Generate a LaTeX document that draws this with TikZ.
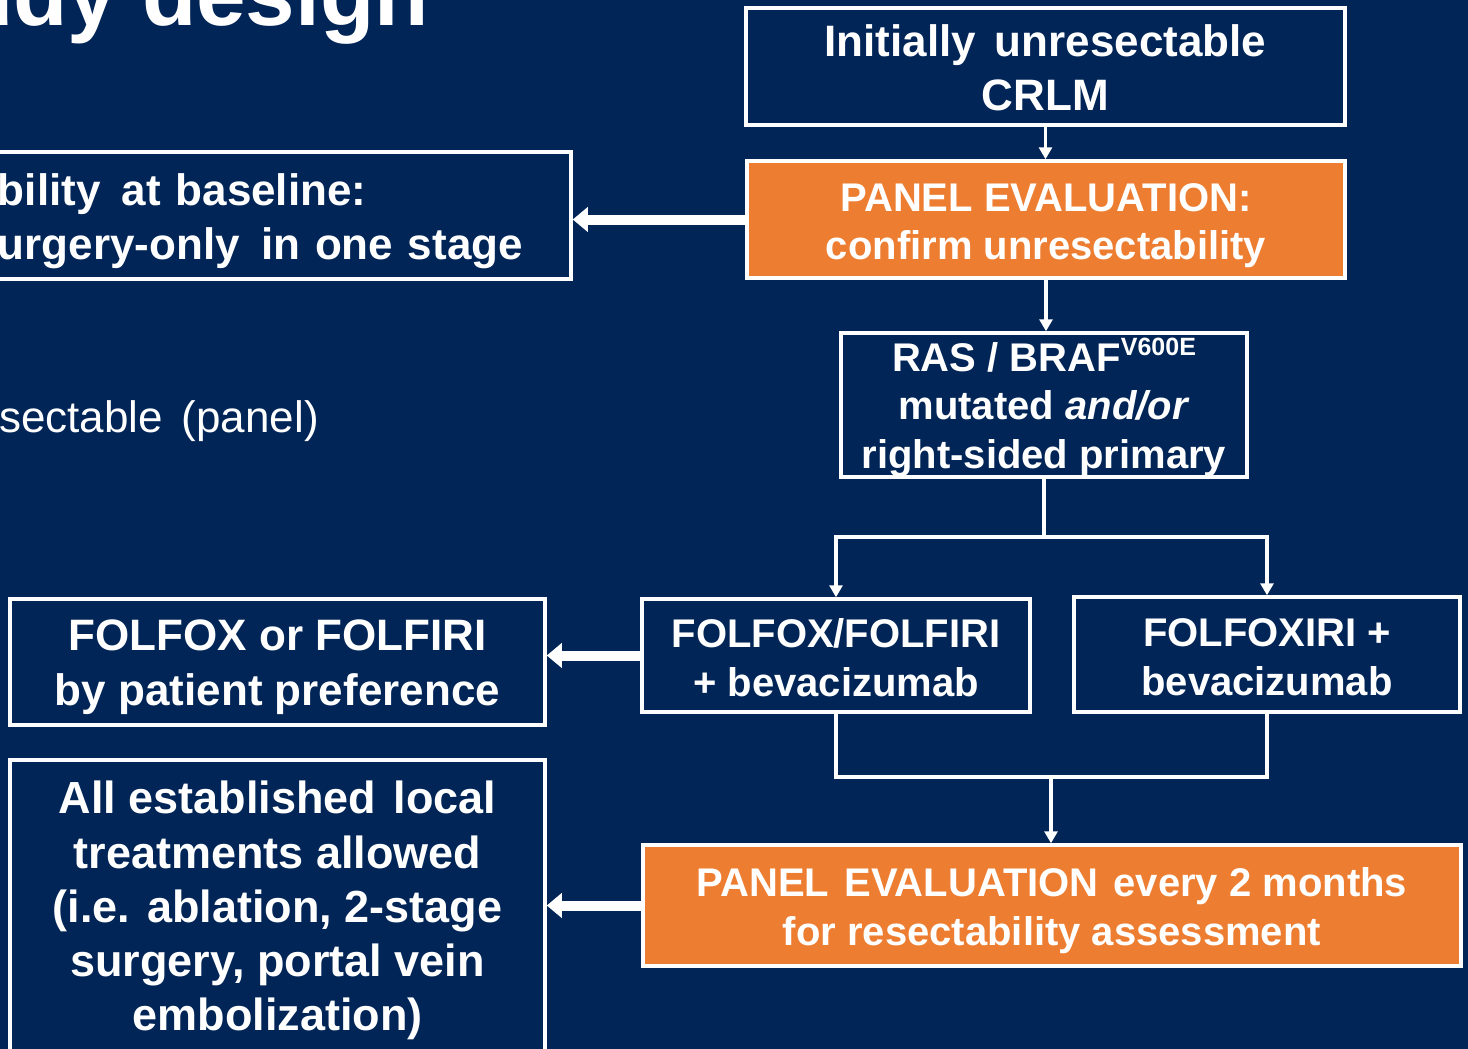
\documentclass[tikz,border=0pt]{standalone}
\usepackage{fontspec}
\setmainfont{Liberation Sans}
\usetikzlibrary{arrows.meta}
\definecolor{navy}{RGB}{1,37,87}
\definecolor{orng}{RGB}{237,125,49}
\newcommand\myst[1]{\rule{0pt}{#1}}
\begin{document}
\begin{tikzpicture}[x=1pt,y=-1pt,
  box/.style={draw=white, line width=3.5pt, fill=navy, text=white, align=center, inner sep=0pt},
  obox/.style={box, fill=orng},
  fa/.style={font=\fontsize{40}{48.5}\selectfont\bfseries},
  fb/.style={font=\fontsize{44}{54}\selectfont\bfseries},
  conn/.style={draw=white, line width=3.5pt},
  tarrow/.style={conn, -{Triangle[width=13pt,length=12pt]}},
  barrow/.style={draw=white, line width=10pt, -{Triangle[width=24pt,length=15pt]}},
]
\fill[navy] (0,0) rectangle (1468,1049);
\useasboundingbox (0,0) rectangle (1468,1049);
\clip (0,0) rectangle (1468,1049);

\node[anchor=base west, text=white, font=\fontsize{89}{100}\selectfont\bfseries, inner sep=0pt] (title) at (-41,26) {udy design};
\node[anchor=west, text=white, font=\fontsize{44}{52}\selectfont, inner sep=0pt] (crit) at (-1,421) {sectable\hspace{0.15em} (panel)};

\node[box, fb, minimum width=599pt, minimum height=117pt] (box1) at (1045.5,66.5) {\myst{35pt}Initially\hspace{0.15em} unresectable\\CRLM};
\node[obox, fa, minimum width=598pt, minimum height=117pt] (box2) at (1046,219.5) {\myst{40pt}PANEL EVALUATION:\\confirm unresectability};
\node[box, fb, align=left, minimum width=583pt, minimum height=127pt, text width=563pt, inner xsep=10pt] (base) at (279.5,215.5) {\myst{44pt}bility\hspace{0.15em} at baseline:\\urgery-only\hspace{0.15em} in one stage};
\node[box, fa, minimum width=406pt, minimum height=144pt] (ras) at (1044,405) {\myst{38pt}RAS / BRAF\raisebox{16pt}{\fontsize{25}{25}\selectfont V600E}\\mutated \textit{and/or}\\right-sided primary};
\node[box, fa, minimum width=388pt, minimum height=113pt] (folfox) at (836,655.5) {\myst{33pt}FOLFOX/FOLFIRI\\+ bevacizumab};
\node[box, fa, minimum width=386pt, minimum height=115pt] (folfoxiri) at (1267,654.5) {\myst{33pt}FOLFOXIRI +\\bevacizumab};
\node[box, font=\fontsize{44}{55}\selectfont\bfseries, minimum width=535pt, minimum height=126pt] (pref) at (277.5,662) {\myst{42pt}FOLFOX or FOLFIRI\\by patient preference};
\node[obox, fa, minimum width=818pt, minimum height=121pt] (panel2) at (1052,905.5) {\myst{39pt}PANEL\hspace{0.1em} EVALUATION\hspace{0.1em} every 2 months\\for resectability assessment};
\node[box, font=\fontsize{45}{54.25}\selectfont\bfseries, minimum width=535pt, minimum height=293pt] (local) at (277.5,906.5) {\myst{41pt}All established\hspace{0.1em} local\\treatments allowed\\(i.e. ablation, 2-stage\\surgery, portal vein\\embolization)};

\coordinate (split) at (1045,537);
\coordinate (join) at (1051,777);
\draw[tarrow] (box1.south) -- (box1.south |- box2.north);
\draw[tarrow] (box2.south) -- (box2.south |- ras.north);
\draw[conn] (ras.south) -- (ras.south |- split);
\draw[tarrow] (ras.south |- split) -| (folfox.north);
\draw[tarrow] (ras.south |- split) -| (folfoxiri.north);
\draw[conn] (folfox.south) |- (join) -| (folfoxiri.south);
\draw[tarrow] (join) -- (join |- panel2.north);
\draw[barrow] (box2.west) -- (box2.west -| base.east);
\draw[barrow] (folfox.west) -- (folfox.west -| pref.east);
\draw[barrow] (panel2.west) -- (panel2.west -| local.east);
\end{tikzpicture}
\end{document}
